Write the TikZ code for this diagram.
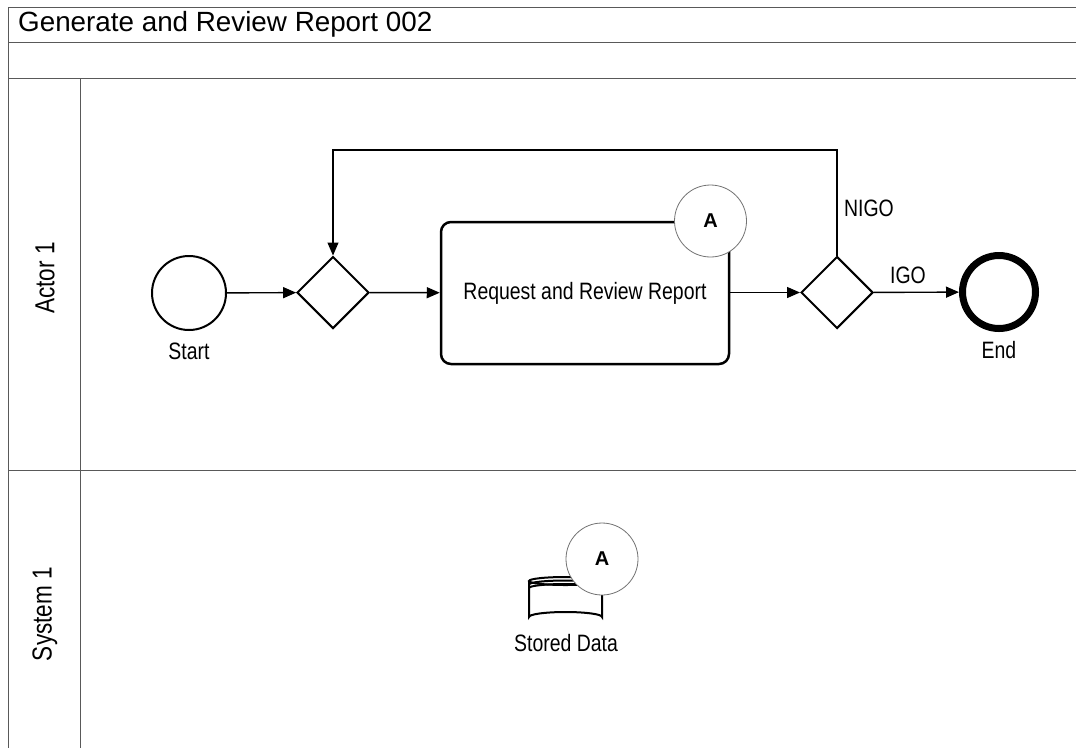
\documentclass[tikz,border=0pt]{standalone}
\usepackage{fontspec}
\setmainfont{Liberation Sans}
\newfontfamily\bodyfont[FakeStretch=0.82]{Liberation Sans}
\usetikzlibrary{arrows.meta,shapes.geometric}
\begin{document}
\begin{tikzpicture}[x=1pt,y=-1pt,
  frame/.style={draw=black!65,line width=0.9},
  lbl/.style={font=\bodyfont\fontsize{23.7}{25}\selectfont,inner sep=0},
  lanelbl/.style={font=\bodyfont\fontsize{27.5}{29}\selectfont,inner sep=0,rotate=90},
  event/.style={circle,draw,inner sep=0,minimum size=74,line width=2},
  endevent/.style={circle,draw,inner sep=0,minimum size=73,line width=7},
  gateway/.style={diamond,draw,inner sep=0,minimum width=72,minimum height=72,line width=2},
  task/.style={rectangle,draw,rounded corners=10,minimum width=288,minimum height=142,line width=2.5,inner sep=0},
  marker/.style={circle,draw=black!55,fill=white,inner sep=0,minimum size=72,line width=0.8,
    font=\fontsize{20}{22}\selectfont\bfseries},
  flow/.style={-{Triangle[length=13,width=11]},line width=1.4},
  loopflow/.style={-{Triangle[length=13,width=11]},line width=1.1}]

% canvas
\useasboundingbox (0,0) rectangle (1076,748);
\fill[white] (0,0) rectangle (1076,748);

% pool frame and lanes
\draw[frame] (1076,7) -- (8,7) -- (8,748);
\draw[frame] (8,42) -- (1076,42);
\draw[frame] (8,78) -- (1076,78);
\draw[frame] (80,78) -- (80,748);
\draw[frame] (8,470) -- (1076,470);

\node[anchor=west,font=\fontsize{27.8}{29}\selectfont,inner sep=0] (title) at (18,24) {Generate and Review Report 002};
\node[lanelbl] (lane1) at (45,278) {Actor 1};
\node[lanelbl] (lane2) at (45,614) {System 1};

% flow elements
\node[event] (start) at (189,293) {};
\node[lbl] (startlbl) at (189,351) {Start};
\node[gateway] (gw1) at (333,292.5) {};
\node[task] (task) at (585,293) {};
\node[lbl] (tasklbl) at (585,293) {Request and Review Report};
\node[marker] (mA) at (710.5,221) {A};
\node[gateway] (gw2) at (837,292.5) {};
\node[endevent] (end) at (999,292) {};
\node[lbl] (endlbl) at (999,350) {End};

% sequence flows
\coordinate (loopL) at (333,150);
\draw[flow] (start) -- (gw1);
\draw[flow] (gw1) -- (task);
\draw[flow] (task.east |- gw2) -- (gw2);
\draw[flow] (gw2) -- (end);
\draw[loopflow] (gw2.north) |- (loopL) -- (gw1.north);
\node[lbl] (nigo) at (869,208) {NIGO};
\node[lbl] (igo) at (908,275) {IGO};

% data store
\begin{scope}[line width=2]
  \draw (529,581) -- (529,617) arc[start angle=180,end angle=360,x radius=36.5,y radius=5] -- (602,581);
  \draw (565.5,581) ellipse[x radius=36.5,y radius=4];
  \draw (529,584.5) arc[start angle=180,end angle=360,x radius=36.5,y radius=4];
  \draw (529,588) arc[start angle=180,end angle=360,x radius=36.5,y radius=4];
\end{scope}
\node[marker] (mB) at (602,559) {A};
\node[lbl] (storelbl) at (566,643) {Stored Data};
\end{tikzpicture}
\end{document}
